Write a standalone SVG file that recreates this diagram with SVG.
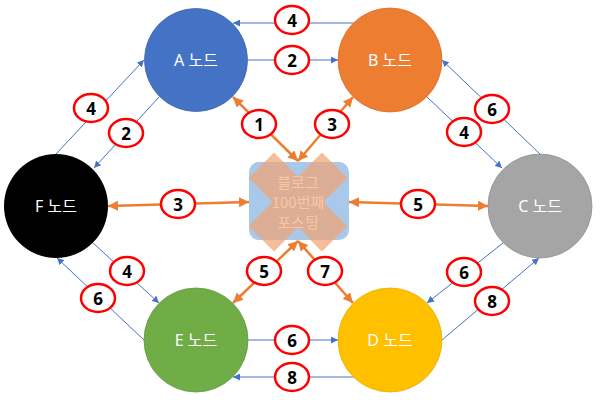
<svg xmlns="http://www.w3.org/2000/svg" width="600" height="400" viewBox="0 0 600 400">
<style>
.node text{font-family:"Noto Sans","Noto Sans CJK KR",sans-serif;font-size:16px;fill:#fff;text-anchor:middle;dominant-baseline:central}
.blue{stroke:#4472C4;stroke-width:1;fill:none;marker-end:url(#ab)}
.orange{stroke:#ED7D31;stroke-width:2.5;fill:none;marker-start:url(#ao);marker-end:url(#ao)}
.lbl ellipse{fill:#fff;stroke:#FF0000;stroke-width:2.5}
.lbl text{font-family:"Noto Sans",sans-serif;font-weight:bold;font-size:17px;fill:#000;text-anchor:middle;dominant-baseline:central}
.ctext{font-family:"Noto Sans CJK KR","Noto Sans",sans-serif;font-size:15px;fill:#F9C6A2;text-anchor:middle;dominant-baseline:central}
</style>
<defs>
<marker id="ab" viewBox="0 0 10 10" refX="10" refY="5" markerWidth="7" markerHeight="7" markerUnits="userSpaceOnUse" orient="auto-start-reverse"><path d="M0,0 L10,5 L0,10 z" fill="#4472C4"/></marker>
<marker id="ao" viewBox="0 0 10 10" refX="10" refY="5" markerWidth="10" markerHeight="10" markerUnits="userSpaceOnUse" orient="auto-start-reverse"><path d="M0,0 L10,5 L0,10 z" fill="#ED7D31"/></marker>
</defs>
<rect width="600" height="400" fill="#fff"/>
<g id="connectors">
<path class="blue" d="M353.5,23 L233,23"/>
<path class="blue" d="M248,60 L338,60"/>
<path class="blue" d="M56,154 L144,60"/>
<path class="blue" d="M159,97 L94,168"/>
<path class="blue" d="M427,97 L502,168"/>
<path class="blue" d="M540,154 L442,60"/>
<path class="blue" d="M93,243 L159,303"/>
<path class="blue" d="M144,340 L57,258"/>
<path class="blue" d="M503,243 L427,303"/>
<path class="blue" d="M442,340 L539,258"/>
<path class="blue" d="M248,340 L338,340"/>
<path class="blue" d="M353.5,377 L233,377"/>
<path class="orange" d="M233,97 L298,161"/>
<path class="orange" d="M353,97 L298,161"/>
<path class="orange" d="M233,303 L298,241"/>
<path class="orange" d="M353,303 L298,241"/>
<path class="orange" d="M108,206 L249,202"/>
<path class="orange" d="M488,206 L349,202"/>
</g>
<g id="nodeA" class="node"><circle cx="196" cy="60" r="51.5" fill="#4472C4" stroke="#3B65B0" stroke-width="0.8"/><text x="196" y="60">A 노드</text></g>
<g id="nodeB" class="node"><circle cx="390" cy="60" r="52" fill="#ED7D31" stroke="#D86F2A" stroke-width="0.8"/><text x="390" y="60">B 노드</text></g>
<g id="nodeC" class="node"><circle cx="540" cy="206" r="52" fill="#A5A5A5" stroke="#929292" stroke-width="0.8"/><text x="540" y="206">C 노드</text></g>
<g id="nodeD" class="node"><circle cx="390" cy="340" r="52" fill="#FFC000" stroke="#E8AE00" stroke-width="0.8"/><text x="390" y="340">D 노드</text></g>
<g id="nodeE" class="node"><circle cx="196" cy="340" r="52" fill="#70AD47" stroke="#63993E" stroke-width="0.8"/><text x="196" y="340">E 노드</text></g>
<g id="nodeF" class="node"><circle cx="56" cy="206" r="52" fill="#000000"/><text x="56" y="206">F 노드</text></g>
<g id="center">
<rect x="249" y="162" width="100" height="78" rx="10" fill="#A9C9EB"/>
<polygon points="298,176.5 322,152.5 347.5,178 323.5,202 347.5,226 322,251.5 298,227.5 274,251.5 248.5,226 272.5,202 248.5,178 274,152.5" fill="#F0A474" fill-opacity="0.72"/>
<text class="ctext" x="298" y="181.5">블로그</text>
<text class="ctext" x="298" y="201.5">100번째</text>
<text class="ctext" x="298" y="221.5">포스팅</text>
</g>
<g id="labels" class="lbl">
<g><ellipse cx="292" cy="20" rx="17" ry="14"/><text x="292" y="20">4</text></g>
<g><ellipse cx="292" cy="60" rx="17" ry="14"/><text x="292" y="60">2</text></g>
<g><ellipse cx="91" cy="108" rx="17" ry="14"/><text x="91" y="108">4</text></g>
<g><ellipse cx="126" cy="133" rx="17" ry="14"/><text x="126" y="133">2</text></g>
<g><ellipse cx="492" cy="109" rx="17" ry="14"/><text x="492" y="109">6</text></g>
<g><ellipse cx="464" cy="132" rx="17" ry="14"/><text x="464" y="132">4</text></g>
<g><ellipse cx="127" cy="271" rx="17" ry="14"/><text x="127" y="271">4</text></g>
<g><ellipse cx="98" cy="298" rx="17" ry="14"/><text x="98" y="298">6</text></g>
<g><ellipse cx="464" cy="272" rx="17" ry="14"/><text x="464" y="272">6</text></g>
<g><ellipse cx="492" cy="301" rx="17" ry="14"/><text x="492" y="301">8</text></g>
<g><ellipse cx="292" cy="340" rx="17" ry="14"/><text x="292" y="340">6</text></g>
<g><ellipse cx="292" cy="377" rx="17" ry="14"/><text x="292" y="377">8</text></g>
<g><ellipse cx="259" cy="124" rx="17" ry="14"/><text x="259" y="124">1</text></g>
<g><ellipse cx="332" cy="124" rx="17" ry="14"/><text x="332" y="124">3</text></g>
<g><ellipse cx="178" cy="204" rx="17" ry="14"/><text x="178" y="204">3</text></g>
<g><ellipse cx="418" cy="204" rx="17" ry="14"/><text x="418" y="204">5</text></g>
<g><ellipse cx="264" cy="271" rx="17" ry="14"/><text x="264" y="271">5</text></g>
<g><ellipse cx="325" cy="271" rx="17" ry="14"/><text x="325" y="271">7</text></g>
</g>
</svg>
